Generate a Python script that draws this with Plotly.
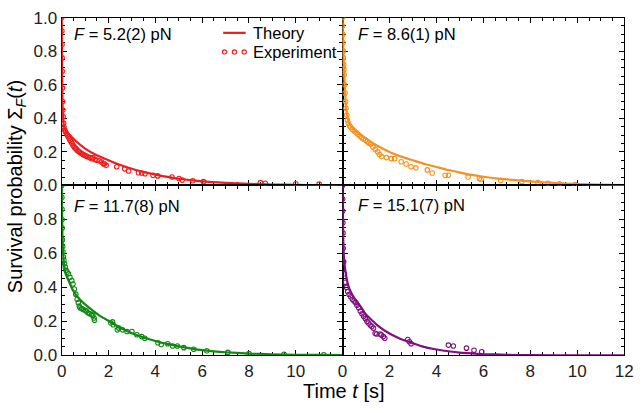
import plotly.graph_objects as go

W, H = 644, 413

# ---------------- data ----------------
force_labels = ["5.2(2)", "8.6(1)", "11.7(8)", "15.1(7)"]
colors = ["#ee1c1c", "#f7901e", "#118811", "#800f80"]

# F = 5.2 pN (red)
t_th_red = [0, 0.005, 0.01, 0.02, 0.03, 0.045, 0.06, 0.08, 0.1, 0.15, 0.2, 0.35, 0.6, 1.0, 1.5, 2.0, 2.5, 3.0, 3.5, 4.0, 5.0, 6.0, 7.0, 8.0, 9.0, 10.0, 11.0, 12.0]
s_th_red = [1.0, 0.85, 0.75, 0.6, 0.5, 0.43, 0.4, 0.37, 0.35, 0.33, 0.32, 0.30, 0.265, 0.22, 0.18, 0.15, 0.122, 0.1, 0.08, 0.065, 0.04, 0.025, 0.016, 0.01, 0.006, 0.004, 0.002, 0.001]
t_ex_red = [0, 0.005, 0.01, 0.015, 0.02, 0.03, 0.04, 0.05, 0.06, 0.08, 0.1, 0.13, 0.16, 0.2, 0.24, 0.28, 0.32, 0.36, 0.4, 0.44, 0.48, 0.52, 0.56, 0.6, 0.65, 0.7, 0.75, 0.8, 0.85, 0.9, 0.95, 1.0, 1.06, 1.12, 1.2, 1.28, 1.33, 1.42, 1.5, 1.6, 1.7, 1.78, 1.82, 1.9, 2.35, 2.69, 2.86, 3.28, 3.42, 3.56, 3.9, 4.1, 4.71, 5.01, 5.15, 5.6, 6.06, 8.49, 8.7, 10.0, 11.0]
s_ex_red = [1.0, 0.92, 0.84, 0.76, 0.68, 0.58, 0.5, 0.45, 0.41, 0.37, 0.345, 0.33, 0.32, 0.31, 0.3, 0.29, 0.28, 0.27, 0.26, 0.25, 0.24, 0.232, 0.225, 0.22, 0.212, 0.205, 0.2, 0.195, 0.19, 0.186, 0.182, 0.178, 0.174, 0.17, 0.166, 0.16, 0.166, 0.155, 0.15, 0.147, 0.14, 0.13, 0.128, 0.12, 0.112, 0.099, 0.086, 0.076, 0.074, 0.07, 0.061, 0.057, 0.051, 0.042, 0.032, 0.028, 0.023, 0.017, 0.013, 0.01, 0.008]

# F = 8.6 pN (orange)
t_th_orange = [0, 0.02, 0.05, 0.08, 0.12, 0.16, 0.21, 0.3, 0.45, 0.6, 0.76, 1.0, 1.26, 1.5, 2.0, 2.5, 3.0, 3.5, 4.0, 4.5, 5.0, 5.5, 6.0, 6.5, 7.0, 7.5, 8.0, 9.0, 10.0, 11.0, 12.0]
s_th_orange = [1.0, 0.88, 0.74, 0.64, 0.53, 0.46, 0.41, 0.37, 0.34, 0.32, 0.305, 0.28, 0.255, 0.235, 0.2, 0.172, 0.15, 0.128, 0.11, 0.092, 0.077, 0.063, 0.052, 0.043, 0.036, 0.03, 0.024, 0.015, 0.009, 0.005, 0.003]
t_ex_orange = [0, 0.005, 0.01, 0.02, 0.03, 0.04, 0.05, 0.06, 0.07, 0.09, 0.11, 0.13, 0.15, 0.18, 0.21, 0.25, 0.3, 0.36, 0.42, 0.5, 0.58, 0.66, 0.74, 0.82, 0.9, 0.98, 1.05, 1.12, 1.2, 1.3, 1.4, 1.5, 1.58, 1.67, 1.875, 2.08, 2.22, 2.5, 2.71, 2.92, 3.125, 3.61, 3.82, 4.375, 4.51, 5.35, 5.83, 5.9, 6.74, 7.64, 8.33, 8.75, 9.24, 9.9]
s_ex_orange = [1.0, 0.95, 0.9, 0.85, 0.8, 0.76, 0.72, 0.69, 0.66, 0.6, 0.55, 0.5, 0.46, 0.42, 0.39, 0.37, 0.355, 0.345, 0.335, 0.325, 0.315, 0.305, 0.295, 0.285, 0.277, 0.27, 0.262, 0.253, 0.245, 0.23, 0.215, 0.2, 0.185, 0.172, 0.166, 0.16, 0.16, 0.141, 0.128, 0.112, 0.105, 0.093, 0.074, 0.061, 0.061, 0.051, 0.042, 0.036, 0.029, 0.023, 0.017, 0.013, 0.01, 0.006]

# F = 11.7 pN (green)
t_th_green = [0, 0.01, 0.02, 0.03, 0.05, 0.08, 0.12, 0.18, 0.29, 0.45, 0.64, 0.8, 1.0, 1.26, 1.6, 1.96, 2.3, 2.65, 3.0, 3.5, 4.04, 4.5, 5.0, 5.5, 6.0, 6.5, 7.0, 8.0, 9.0, 10.0, 11.0, 12.0]
s_th_green = [1.0, 0.87, 0.78, 0.71, 0.63, 0.56, 0.51, 0.475, 0.44, 0.39, 0.35, 0.325, 0.3, 0.27, 0.235, 0.206, 0.178, 0.152, 0.13, 0.105, 0.083, 0.067, 0.053, 0.041, 0.03, 0.023, 0.018, 0.01, 0.006, 0.003, 0.002, 0.001]
t_ex_green = [0, 0.005, 0.01, 0.015, 0.02, 0.03, 0.04, 0.05, 0.07, 0.09, 0.12, 0.15, 0.19, 0.23, 0.29, 0.35, 0.43, 0.48, 0.54, 0.6, 0.66, 0.71, 0.75, 0.78, 0.85, 0.92, 1.0, 1.05, 1.12, 1.2, 1.27, 1.33, 1.38, 1.4, 2.1, 2.17, 2.2, 2.375, 2.44, 2.6, 2.79, 3.0, 3.21, 3.42, 3.55, 4.11, 4.25, 4.53, 4.74, 4.94, 5.22, 5.64, 6.2, 7.1, 8.0, 9.5, 11.2]
s_ex_green = [1.0, 0.93, 0.86, 0.8, 0.75, 0.68, 0.64, 0.61, 0.58, 0.56, 0.54, 0.52, 0.5, 0.49, 0.48, 0.46, 0.44, 0.42, 0.39, 0.36, 0.33, 0.31, 0.29, 0.28, 0.275, 0.27, 0.265, 0.26, 0.25, 0.245, 0.24, 0.235, 0.22, 0.206, 0.19, 0.197, 0.18, 0.15, 0.16, 0.15, 0.14, 0.14, 0.121, 0.11, 0.1, 0.074, 0.064, 0.068, 0.055, 0.055, 0.045, 0.036, 0.027, 0.017, 0.01, 0.006, 0.003]

# F = 15.1 pN (purple)
t_th_purple = [0, 0.01, 0.02, 0.04, 0.07, 0.12, 0.21, 0.3, 0.49, 0.76, 1.0, 1.26, 1.5, 2.0, 2.5, 2.85, 3.35, 4.0, 4.5, 5.0, 5.5, 6.0, 6.5, 7.0, 8.0, 10.0, 12.0]
s_th_purple = [1.0, 0.86, 0.77, 0.64, 0.56, 0.5, 0.43, 0.39, 0.34, 0.29, 0.24, 0.205, 0.175, 0.128, 0.095, 0.078, 0.054, 0.034, 0.024, 0.016, 0.011, 0.007, 0.005, 0.003, 0.001, 0.0, 0.0]
t_ex_purple = [0, 0.005, 0.01, 0.015, 0.02, 0.03, 0.05, 0.08, 0.12, 0.17, 0.22, 0.28, 0.35, 0.42, 0.49, 0.56, 0.62, 0.69, 0.76, 0.83, 0.9, 0.97, 1.04, 1.1, 1.18, 1.25, 1.32, 1.39, 1.45, 1.6, 1.65, 1.74, 1.8, 2.78, 2.85, 2.92, 4.51, 4.72, 5.28, 5.6, 5.93]
s_ex_purple = [1.0, 0.92, 0.85, 0.78, 0.72, 0.63, 0.55, 0.48, 0.43, 0.4, 0.375, 0.358, 0.345, 0.33, 0.32, 0.31, 0.295, 0.28, 0.26, 0.244, 0.23, 0.216, 0.2, 0.19, 0.178, 0.17, 0.16, 0.13, 0.125, 0.125, 0.12, 0.11, 0.1, 0.093, 0.08, 0.068, 0.06, 0.055, 0.042, 0.03, 0.021]

panels = [
    (t_th_red, s_th_red, t_ex_red, s_ex_red),
    (t_th_orange, s_th_orange, t_ex_orange, s_ex_orange),
    (t_th_green, s_th_green, t_ex_green, s_ex_green),
    (t_th_purple, s_th_purple, t_ex_purple, s_ex_purple),
]

x_ticks = [0, 2, 4, 6, 8, 10, 12]
y_ticks = [0.0, 0.2, 0.4, 0.6, 0.8, 1.0]

# ---------------- layout geometry (pixels) ----------------
x_left = (58, 345)
x_right = (345, 633)
y_top = (9, 185)
y_bot = (185, 363)

def xd(px):
    return [px[0] / W, px[1] / W]

def yd(py):
    return [1 - py[1] / H, 1 - py[0] / H]

FONT = "Liberation Sans, Arial, Helvetica, sans-serif"
TICK_SIZE = 17
LABEL_SIZE = 16.5
TITLE_SIZE = 20
fig = go.Figure()

axes_names = [("x", "y"), ("x2", "y2"), ("x3", "y3"), ("x4", "y4")]
for i, (tt, st, te, se) in enumerate(panels):
    xa, ya = axes_names[i]
    fig.add_trace(go.Scatter(x=te, y=se, xaxis=xa, yaxis=ya, mode="markers",
                             marker=dict(symbol="circle-open", size=4.5, color=colors[i],
                                         line=dict(width=1.1, color=colors[i])),
                             showlegend=False, cliponaxis=True, hoverinfo="skip"))
    fig.add_trace(go.Scatter(x=tt, y=st, xaxis=xa, yaxis=ya, mode="lines",
                             line=dict(color=colors[i], width=2.2, shape="spline", smoothing=0.5),
                             showlegend=False, hoverinfo="skip"))

def xaxis_cfg(dom, anchor, labels):
    d = dict(domain=xd(dom), anchor=anchor, range=[0, 12], showgrid=False, zeroline=False,
             showline=True, linecolor="black", linewidth=1.3, mirror="allticks",
             ticks="inside", ticklen=5, tickwidth=1.1, tickcolor="black",
             tickvals=x_ticks, layer="below traces", ticklabeloverflow="allow",
             minor=dict(dtick=0.5, ticks="inside", ticklen=3, tickwidth=1, tickcolor="black"),
             tickfont=dict(family=FONT, size=TICK_SIZE, color="#222"))
    if labels is None:
        d["showticklabels"] = False
    else:
        d["ticktext"] = labels
    return d

def yaxis_cfg(dom, anchor, labels):
    d = dict(domain=yd(dom), anchor=anchor, range=[0, 1], showgrid=False, zeroline=False,
             showline=True, linecolor="black", linewidth=1.3, mirror="allticks",
             ticks="inside", ticklen=5, tickwidth=1.1, tickcolor="black",
             tickvals=y_ticks, layer="below traces", ticklabeloverflow="allow",
             minor=dict(dtick=0.05, ticks="inside", ticklen=3, tickwidth=1, tickcolor="black"),
             tickfont=dict(family=FONT, size=TICK_SIZE, color="#222"))
    if labels is None:
        d["showticklabels"] = False
    else:
        d["ticktext"] = labels
    return d

x_lab_left = ["0", "2", "4", "6", "8", "10", ""]
x_lab_right = ["0", "2", "4", "6", "8", "10", "12"]
y_lab_top = ["0.0", "0.2", "0.4", "0.6", "0.8", "1.0"]
y_lab_bot = ["0.0", "0.2", "0.4", "0.6", "0.8", ""]

fig.update_layout(
    width=W, height=H, margin=dict(l=0, r=0, t=0, b=0),
    paper_bgcolor="white", plot_bgcolor="white",
    font=dict(family=FONT, color="black"),
    xaxis=xaxis_cfg(x_left, "y", None),
    yaxis=yaxis_cfg(y_top, "x", y_lab_top),
    xaxis2=xaxis_cfg(x_right, "y2", None),
    yaxis2=yaxis_cfg(y_top, "x2", None),
    xaxis3=xaxis_cfg(x_left, "y3", x_lab_left),
    yaxis3=yaxis_cfg(y_bot, "x3", y_lab_bot),
    xaxis4=xaxis_cfg(x_right, "y4", x_lab_right),
    yaxis4=yaxis_cfg(y_bot, "x4", None),
)

def P(px, py):
    return px / W, 1 - py / H

annots = []
label_pos = [(68, 26), (359, 26), (68, 206), (359, 205)]
for i, (px, py) in enumerate(label_pos):
    x, y = P(px, py)
    annots.append(dict(x=x, y=y, xref="paper", yref="paper", xanchor="left", yanchor="middle",
                       showarrow=False, text="<i>F</i> = " + force_labels[i] + " pN",
                       font=dict(family=FONT, size=LABEL_SIZE, color="black")))

# legend (top-left panel)
for txt, py in [("Theory", 25), ("Experiment", 45)]:
    x, y = P(251, py)
    annots.append(dict(x=x, y=y, xref="paper", yref="paper", xanchor="left", yanchor="middle",
                       showarrow=False, text=txt, font=dict(family=FONT, size=LABEL_SIZE, color="black")))

# axis titles
x, y = P(12, 186)
annots.append(dict(x=x, y=y, xref="paper", yref="paper", xanchor="center", yanchor="middle",
                   showarrow=False, textangle=-90,
                   text="Survival probability \u03a3<sub><i>F</i></sub>(<i>t</i>)",
                   font=dict(family=FONT, size=TITLE_SIZE, color="black")))
x, y = P(347, 400)
annots.append(dict(x=x, y=y, xref="paper", yref="paper", xanchor="center", yanchor="middle",
                   showarrow=False, text="Time <i>t</i> [s]", borderpad=0,
                   font=dict(family=FONT, size=TITLE_SIZE, color="black")))

shapes = []
x0, y0 = P(223, 25)
x1, _ = P(246, 25)
shapes.append(dict(type="line", xref="paper", yref="paper", x0=x0, x1=x1, y0=y0, y1=y0,
                   line=dict(color=colors[0], width=2.2)))
r = 2.2
for cx in [224.5, 234.5, 244.5]:
    a0, b0 = P(cx - r, 45 + r)
    a1, b1 = P(cx + r, 45 - r)
    shapes.append(dict(type="circle", xref="paper", yref="paper", x0=a0, x1=a1, y0=b0, y1=b1,
                       line=dict(color=colors[0], width=1.1)))

fig.update_layout(annotations=annots, shapes=shapes)
fig.write_html("out.html", config={"displayModeBar": False},
               post_script="document.body.style.margin='0px';document.body.style.overflow='hidden';")
